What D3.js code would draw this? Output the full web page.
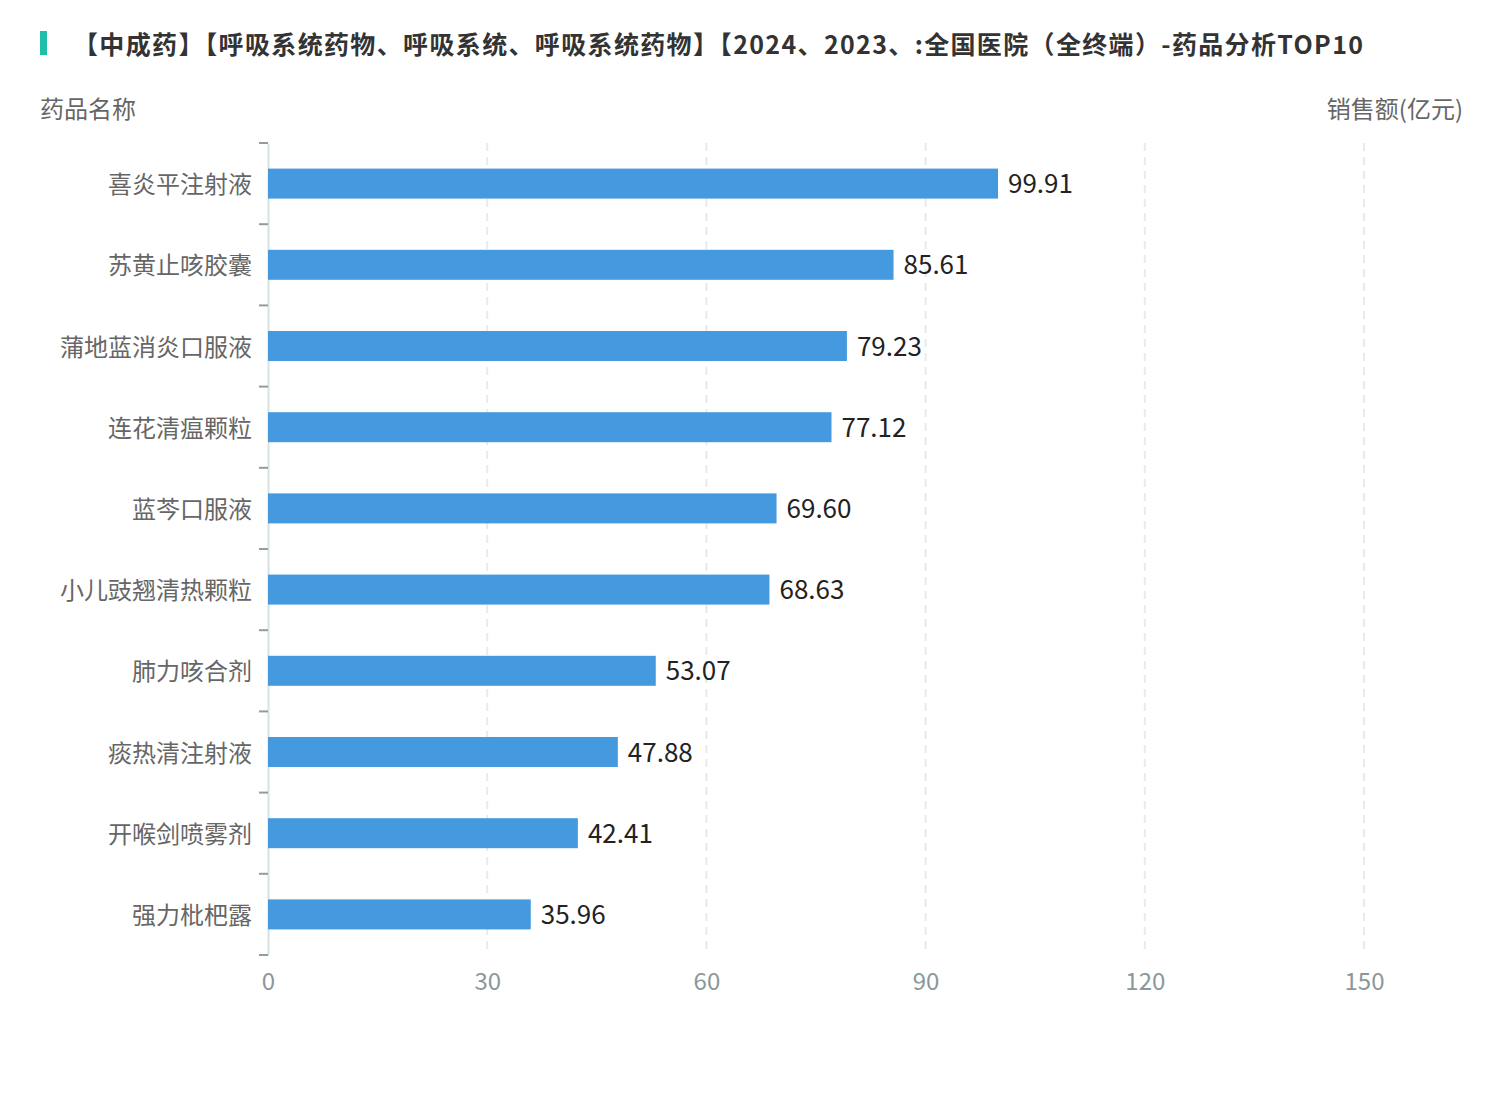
<!DOCTYPE html>
<html><head><meta charset="utf-8">
<script src="https://cdn.jsdelivr.net/npm/d3@7"></script>
<style>body{margin:0;background:#fff;}svg{display:block;}text{font-family:"Noto Sans CJK SC","Noto Sans",sans-serif;}</style>
</head><body>
<svg id="c" width="1506" height="1106"></svg>
<script>
const categories = ["喜炎平注射液","苏黄止咳胶囊","蒲地蓝消炎口服液","连花清瘟颗粒","蓝芩口服液","小儿豉翘清热颗粒","肺力咳合剂","痰热清注射液","开喉剑喷雾剂","强力枇杷露"];
const values = [99.91,85.61,79.23,77.12,69.60,68.63,53.07,47.88,42.41,35.96];
const xTicks = [0,30,60,90,120,150];
const title = "【中成药】【呼吸系统药物、呼吸系统、呼吸系统药物】【2024、2023、:全国医院（全终端）-药品分析TOP10";

(function(){
const svg = d3.select("#c");
const pL = 268, pR = 1364, pT = 143, pB = 955;
const x = d3.scaleLinear().domain([0,150]).range([pL,pR]);
const y = d3.scaleBand().domain(categories).range([pT,pB]);
const FONT = '"Noto Sans CJK SC","Noto Sans",sans-serif';
const NUMFONT = '"Open Sans","Noto Sans",sans-serif';

svg.append("rect").attr("x",40).attr("y",31).attr("width",7).attr("height",24).attr("fill","#1fbfab");
svg.append("text").attr("x",73).attr("y",54).attr("font-size",25).attr("font-weight","bold").attr("fill","#333")
  .attr("textLength",1290).attr("lengthAdjust","spacing").text(title);
svg.append("text").attr("x",40).attr("y",118).attr("font-size",24).attr("fill","#666").text("药品名称");
svg.append("text").attr("x",1463).attr("y",118).attr("font-size",24).attr("fill","#666").attr("text-anchor","end").text("销售额(亿元)");

svg.append("g").selectAll("line").data(xTicks.filter(d=>d>0)).join("line")
  .attr("x1",d=>x(d)).attr("x2",d=>x(d)).attr("y1",pT).attr("y2",pB)
  .attr("stroke","#e6ebeb").attr("stroke-width",2).attr("stroke-dasharray","8,6");

const xa = svg.append("g").attr("transform",`translate(0,${pB})`)
  .call(d3.axisBottom(x).tickValues(xTicks).tickSize(0).tickPadding(18));
xa.select(".domain").remove();
xa.selectAll("text").attr("font-size",24).attr("fill","#8a979b").attr("font-family",NUMFONT);

const ya = svg.append("g").attr("transform",`translate(${pL},0)`)
  .call(d3.axisLeft(y).tickSize(0).tickPadding(16));
ya.select(".domain").attr("stroke","#d5e3e0").attr("stroke-width",2);
ya.selectAll("text").attr("font-size",24).attr("fill","#666").attr("font-family",FONT).attr("dy","0.4em");
const bounds = categories.map(c=>y(c)).concat([pB]);
svg.append("g").selectAll("line").data(bounds).join("line")
  .attr("x1",pL-9).attr("x2",pL).attr("y1",d=>d).attr("y2",d=>d)
  .attr("stroke","#999").attr("stroke-width",2);

const bh = 30;
svg.append("g").selectAll("rect").data(values).join("rect")
  .attr("x",x(0)).attr("y",(d,i)=>y(categories[i])+y.bandwidth()/2-bh/2)
  .attr("width",d=>x(d)-x(0)).attr("height",bh).attr("fill","#4599df");

svg.append("g").selectAll("text").data(values).join("text")
  .attr("x",d=>x(d)+10).attr("y",(d,i)=>y(categories[i])+y.bandwidth()/2)
  .attr("dy","0.37em").attr("font-size",26).attr("fill","#222").attr("font-family",NUMFONT)
  .text(d=>d.toFixed(2));
})();
</script>
</body></html>
